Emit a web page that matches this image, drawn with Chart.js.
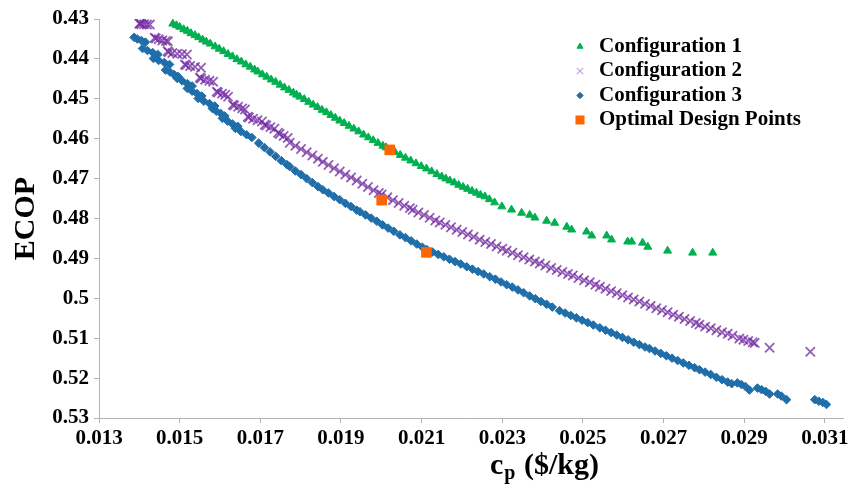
<!DOCTYPE html>
<html>
<head>
<meta charset="utf-8">
<script src="https://cdn.jsdelivr.net/npm/chart.js@4.4.1/dist/chart.umd.min.js"></script>
<style>
  html, body { margin: 0; padding: 0; background: #fff; }
  #wrap { width: 861px; height: 492px; }
</style>
</head>
<body>
<div id="wrap"><canvas id="chart" width="861" height="492"></canvas></div>
<script>
// values, [cp ($/kg), ECOP]
const config1Points = [
  [0.01483,0.4312],[0.01492,0.4316],[0.01500,0.4320],[0.01510,0.4326],[0.01519,0.4330],[0.01528,0.4336],
  [0.01538,0.4341],[0.01547,0.4346],[0.01557,0.4352],[0.01566,0.4357],[0.01576,0.4362],[0.01588,0.4369],
  [0.01598,0.4375],[0.01609,0.4381],[0.01620,0.4388],[0.01631,0.4394],[0.01642,0.4401],[0.01653,0.4407],
  [0.01664,0.4414],[0.01675,0.4420],[0.01686,0.4427],[0.01694,0.4432],[0.01705,0.4439],[0.01716,0.4445],
  [0.01727,0.4452],[0.01738,0.4458],[0.01749,0.4465],[0.01760,0.4472],[0.01771,0.4478],[0.01782,0.4485],
  [0.01790,0.4490],[0.01798,0.4495],[0.01809,0.4501],[0.01820,0.4508],[0.01831,0.4515],[0.01842,0.4521],
  [0.01853,0.4528],[0.01864,0.4534],[0.01875,0.4541],[0.01886,0.4548],[0.01897,0.4555],[0.01908,0.4561],
  [0.01920,0.4568],[0.01932,0.4575],[0.01944,0.4582],[0.01956,0.4590],[0.01968,0.4597],[0.01980,0.4604],
  [0.01992,0.4611],[0.02004,0.4618],[0.02012,0.4622],[0.02021,0.4628],[0.02034,0.4634],[0.02047,0.4641],
  [0.02060,0.4648],[0.02073,0.4655],[0.02086,0.4662],[0.02099,0.4669],[0.02112,0.4675],[0.02125,0.4682],
  [0.02138,0.4689],[0.02150,0.4695],[0.02160,0.4700],[0.02170,0.4705],[0.02181,0.4710],[0.02192,0.4716],
  [0.02203,0.4721],[0.02214,0.4726],[0.02225,0.4731],[0.02236,0.4736],[0.02246,0.4741],[0.02257,0.4745],
  [0.02268,0.4752],[0.02281,0.4760],[0.02299,0.4770],[0.02323,0.4778],[0.02348,0.4786],[0.02368,0.4791],
  [0.02381,0.4798],[0.02410,0.4806],[0.02430,0.4811],[0.02460,0.4821],[0.02472,0.4828],[0.02509,0.4833],
  [0.02522,0.4843],[0.02559,0.4843],[0.02571,0.4853],[0.02611,0.4858],[0.02621,0.4858],[0.02648,0.4861],
  [0.02661,0.4871],[0.02710,0.4881],[0.02772,0.4886],[0.02822,0.4886]
];

const config2Points = [
  [0.01400,0.4312],[0.01402,0.4311],[0.01405,0.4313],[0.01412,0.4313],[0.01419,0.4314],[0.01426,0.4314],
  [0.01438,0.4347],[0.01441,0.4349],[0.01448,0.4351],[0.01457,0.4354],[0.01466,0.4355],[0.01471,0.4356],
  [0.01470,0.4381],[0.01473,0.4383],[0.01482,0.4385],[0.01494,0.4387],[0.01506,0.4388],[0.01518,0.4389],
  [0.01513,0.4414],[0.01516,0.4416],[0.01526,0.4418],[0.01538,0.4420],[0.01553,0.4422],
  [0.01550,0.4447],[0.01553,0.4449],[0.01563,0.4452],[0.01574,0.4455],[0.01583,0.4457],
  [0.01592,0.4482],[0.01595,0.4484],[0.01605,0.4487],[0.01613,0.4490],[0.01620,0.4495],
  [0.01632,0.4515],[0.01635,0.4517],[0.01645,0.4520],[0.01655,0.4524],[0.01662,0.4527],
  [0.01669,0.4545],[0.01672,0.4547],[0.01682,0.4550],[0.01693,0.4554],[0.01704,0.4557],
  [0.01711,0.4565],[0.01715,0.4567],[0.01725,0.4571],[0.01735,0.4575],
  [0.01744,0.4585],[0.01748,0.4588],[0.01758,0.4593],[0.01768,0.4598],
  [0.01773,0.4610],[0.01787,0.4618],[0.01801,0.4626],[0.01815,0.4634],[0.01829,0.4642],[0.01843,0.4650],
  [0.01855,0.4658],[0.01869,0.4666],[0.01883,0.4674],[0.01897,0.4682],[0.01911,0.4690],[0.01925,0.4697],
  [0.01939,0.4705],[0.01953,0.4713],[0.01967,0.4721],[0.01981,0.4729],[0.01994,0.4736],[0.02001,0.4740],
  [0.02015,0.4747],[0.02029,0.4754],[0.02043,0.4761],[0.02057,0.4768],[0.02071,0.4774],[0.02078,0.4778],
  [0.02092,0.4785],[0.02106,0.4791],[0.02120,0.4798],[0.02134,0.4805],[0.02145,0.4810],[0.02159,0.4816],
  [0.02173,0.4822],[0.02187,0.4828],[0.02201,0.4834],[0.02215,0.4840],[0.02229,0.4846],[0.02244,0.4853],
  [0.02258,0.4859],[0.02272,0.4864],[0.02286,0.4870],[0.02300,0.4876],[0.02311,0.4881],[0.02325,0.4886],
  [0.02339,0.4892],[0.02353,0.4897],[0.02367,0.4903],[0.02381,0.4908],[0.02393,0.4913],[0.02407,0.4918],
  [0.02421,0.4924],[0.02435,0.4929],[0.02449,0.4934],[0.02463,0.4939],[0.02475,0.4943],[0.02489,0.4949],
  [0.02503,0.4955],[0.02517,0.4960],[0.02531,0.4966],[0.02542,0.4971],[0.02556,0.4976],[0.02570,0.4982],
  [0.02584,0.4987],[0.02598,0.4992],[0.02612,0.4998],[0.02626,0.5003],[0.02640,0.5008],[0.02654,0.5014],
  [0.02668,0.5019],[0.02682,0.5025],[0.02696,0.5030],[0.02710,0.5035],[0.02724,0.5041],[0.02738,0.5046],
  [0.02752,0.5052],[0.02766,0.5057],[0.02780,0.5062],[0.02789,0.5066],[0.02803,0.5071],[0.02817,0.5075],
  [0.02831,0.5080],[0.02845,0.5085],[0.02859,0.5089],[0.02871,0.5094],
  [0.02888,0.5101],[0.02898,0.5104],[0.02910,0.5107],[0.02921,0.5110],[0.02926,0.5112],
  [0.02963,0.5124],[0.03064,0.5134]
];

const config3Points = [
  [0.01387,0.4346],[0.01395,0.4350],[0.01405,0.4354],[0.01415,0.4358],
  [0.01408,0.4374],[0.01420,0.4379],[0.01433,0.4384],[0.01446,0.4389],
  [0.01435,0.4399],[0.01448,0.4404],[0.01462,0.4409],[0.01475,0.4414],
  [0.01465,0.4428],[0.01476,0.4433],[0.01486,0.4439],[0.01496,0.4444],
  [0.01494,0.4449],[0.01506,0.4455],[0.01519,0.4462],[0.01531,0.4468],
  [0.01519,0.4474],[0.01531,0.4481],[0.01543,0.4487],[0.01555,0.4493],
  [0.01546,0.4499],[0.01560,0.4506],[0.01574,0.4512],[0.01587,0.4518],
  [0.01581,0.4524],[0.01591,0.4531],[0.01602,0.4537],[0.01612,0.4543],
  [0.01606,0.4549],[0.01619,0.4556],[0.01631,0.4563],[0.01644,0.4569],
  [0.01638,0.4574],[0.01652,0.4582],[0.01666,0.4590],[0.01679,0.4597],
  [0.01696,0.4611],[0.01710,0.4622],[0.01724,0.4633],[0.01738,0.4644],[0.01752,0.4655],[0.01766,0.4665],
  [0.01773,0.4670],[0.01787,0.4681],[0.01801,0.4690],[0.01815,0.4700],[0.01829,0.4710],[0.01843,0.4720],
  [0.01855,0.4728],[0.01869,0.4736],[0.01883,0.4745],[0.01897,0.4753],[0.01911,0.4762],[0.01925,0.4770],
  [0.01939,0.4779],[0.01947,0.4783],[0.01961,0.4791],[0.01975,0.4799],[0.01989,0.4807],[0.02003,0.4816],
  [0.02017,0.4824],[0.02031,0.4832],[0.02046,0.4841],[0.02060,0.4848],[0.02074,0.4856],[0.02088,0.4864],
  [0.02102,0.4872],[0.02113,0.4878],[0.02127,0.4884],[0.02141,0.4890],[0.02155,0.4896],[0.02169,0.4902],
  [0.02183,0.4908],[0.02197,0.4914],[0.02212,0.4921],[0.02226,0.4927],[0.02240,0.4933],[0.02254,0.4939],
  [0.02269,0.4946],[0.02283,0.4952],[0.02297,0.4959],[0.02311,0.4966],[0.02325,0.4972],[0.02339,0.4979],
  [0.02353,0.4986],[0.02368,0.4994],[0.02382,0.5001],[0.02396,0.5008],[0.02410,0.5015],[0.02424,0.5022],
  [0.02442,0.5031],[0.02456,0.5037],[0.02470,0.5043],[0.02484,0.5049],[0.02498,0.5055],[0.02512,0.5061],
  [0.02526,0.5067],[0.02542,0.5074],[0.02556,0.5080],[0.02570,0.5086],[0.02584,0.5092],[0.02598,0.5098],
  [0.02612,0.5104],[0.02626,0.5110],[0.02640,0.5116],[0.02654,0.5122],[0.02665,0.5126],[0.02679,0.5132],
  [0.02693,0.5138],[0.02707,0.5144],[0.02721,0.5150],[0.02735,0.5156],[0.02749,0.5162],[0.02763,0.5168],
  [0.02777,0.5174],[0.02789,0.5179],[0.02803,0.5185],[0.02817,0.5191],[0.02831,0.5198],[0.02845,0.5204],
  [0.02859,0.5210],[0.02869,0.5214],
  [0.02883,0.5212],[0.02893,0.5216],[0.02903,0.5221],[0.02913,0.5230],
  [0.02933,0.5225],[0.02943,0.5229],[0.02953,0.5233],[0.02963,0.5240],
  [0.02983,0.5240],[0.02992,0.5245],[0.03005,0.5254],
  [0.03075,0.5254],[0.03085,0.5258],[0.03095,0.5261],[0.03104,0.5266]
];

const optimalPoints = [[0.02021,0.4628],[0.02001,0.4754],[0.02112,0.4885]];

const seriesNames = ['Configuration 1', 'Configuration 2', 'Configuration 3', 'Optimal Design Points'];
const xTicks = [0.013, 0.015, 0.017, 0.019, 0.021, 0.023, 0.025, 0.027, 0.029, 0.031];
const yTicks = [0.43, 0.44, 0.45, 0.46, 0.47, 0.48, 0.49, 0.5, 0.51, 0.52, 0.53];

const serif = '"Liberation Serif", "Times New Roman", serif';
Chart.defaults.font.family = serif;
Chart.defaults.color = '#000';

const toXY = pts => pts.map(p => ({ x: p[0], y: p[1] }));

const legendMarks = [
  { style: 'triangle', radius: 3.5, fill: '#00b050', stroke: '#00b050', width: 1 },
  { style: 'crossRot', radius: 4.5, fill: 'rgba(0,0,0,0)', stroke: '#c4a4dc', width: 1.2 },
  { style: 'rectRot', radius: 3.2, fill: '#1f6eaa', stroke: '#1f6eaa', width: 1 },
  { style: 'rect', radius: 6.4, fill: '#ff6600', stroke: '#ff6600', width: 0 }
];

// legend in the top right and the x title with its subscript
const extras = {
  id: 'extras',
  afterDraw(chart) {
    const ctx = chart.ctx;
    ctx.save();
    seriesNames.forEach((name, i) => {
      const y = 46.5 + i * 24.5;
      const m = legendMarks[i];
      ctx.fillStyle = m.fill;
      ctx.strokeStyle = m.stroke;
      ctx.lineWidth = m.width;
      Chart.helpers.drawPoint(ctx, { pointStyle: m.style, radius: m.radius, rotation: 0, borderWidth: m.width }, 580, y);
      ctx.fillStyle = '#000';
      ctx.font = 'bold 21px ' + serif;
      ctx.textBaseline = 'middle';
      ctx.textAlign = 'left';
      ctx.fillText(name, 599, y);
    });

    ctx.textBaseline = 'alphabetic';
    let x = 490;
    ctx.font = 'bold 30px ' + serif;
    ctx.fillText('c', x, 474);
    x += ctx.measureText('c').width + 1;
    ctx.font = 'bold 20px ' + serif;
    ctx.fillText('p', x, 479);
    x += ctx.measureText('p').width + 1;
    ctx.font = 'bold 30px ' + serif;
    ctx.fillText(' ($/kg)', x, 474);
    ctx.restore();
  }
};

const axisGray = '#b4b4b4';

new Chart(document.getElementById('chart'), {
  type: 'scatter',
  data: {
    datasets: [
      {
        label: seriesNames[3], data: toXY(optimalPoints), order: 0,
        pointStyle: 'rect', pointRadius: 7.5, pointBorderWidth: 0,
        backgroundColor: '#ff6600', borderColor: '#ff6600'
      },
      {
        label: seriesNames[0], data: toXY(config1Points), order: 1,
        pointStyle: 'triangle', pointRadius: 4.6, pointBorderWidth: 1,
        backgroundColor: '#00b050', borderColor: '#00b050'
      },
      {
        label: seriesNames[1], data: toXY(config2Points), order: 2,
        pointStyle: 'crossRot', pointRadius: 6.5, pointBorderWidth: 1.8,
        backgroundColor: 'rgba(112,40,160,0.75)', borderColor: 'rgba(112,40,160,0.75)'
      },
      {
        label: seriesNames[2], data: toXY(config3Points), order: 3,
        pointStyle: 'rectRot', pointRadius: 4.3, pointBorderWidth: 1,
        backgroundColor: '#1f6eaa', borderColor: '#1f6eaa'
      }
    ]
  },
  options: {
    responsive: false,
    animation: false,
    devicePixelRatio: 1,
    layout: { padding: { left: 0, top: 19, right: 18, bottom: 0 } },
    plugins: { legend: { display: false }, tooltip: { enabled: false } },
    scales: {
      x: {
        type: 'linear',
        position: 'bottom',
        min: 0.013,
        max: 0.03145,
        afterBuildTicks: s => { s.ticks = xTicks.map(v => ({ value: v })); },
        afterFit: s => { s.height = 74; s.paddingLeft = 0; s.paddingRight = 0; },
        border: { color: axisGray, width: 1 },
        grid: { drawOnChartArea: false, drawTicks: true, tickLength: 5, color: axisGray },
        ticks: {
          autoSkip: false, maxRotation: 0, padding: 3,
          font: { size: 21, weight: 'bold' },
          callback: v => String(v)
        }
      },
      y: {
        type: 'linear',
        reverse: true,
        min: 0.43,
        max: 0.53,
        afterBuildTicks: s => { s.ticks = yTicks.map(v => ({ value: v })); },
        afterFit: s => { s.width = 99; s.paddingTop = 0; s.paddingBottom = 0; },
        border: { color: axisGray, width: 1 },
        grid: { drawOnChartArea: false, drawTicks: true, tickLength: 5, color: axisGray },
        ticks: {
          autoSkip: false, padding: 5,
          font: { size: 21, weight: 'bold' },
          callback: v => String(v)
        },
        title: {
          display: true, text: 'ECOP',
          font: { size: 30, weight: 'bold' },
          padding: { top: 8, bottom: 0 }
        }
      }
    }
  },
  plugins: [extras]
});
</script>
</body>
</html>
